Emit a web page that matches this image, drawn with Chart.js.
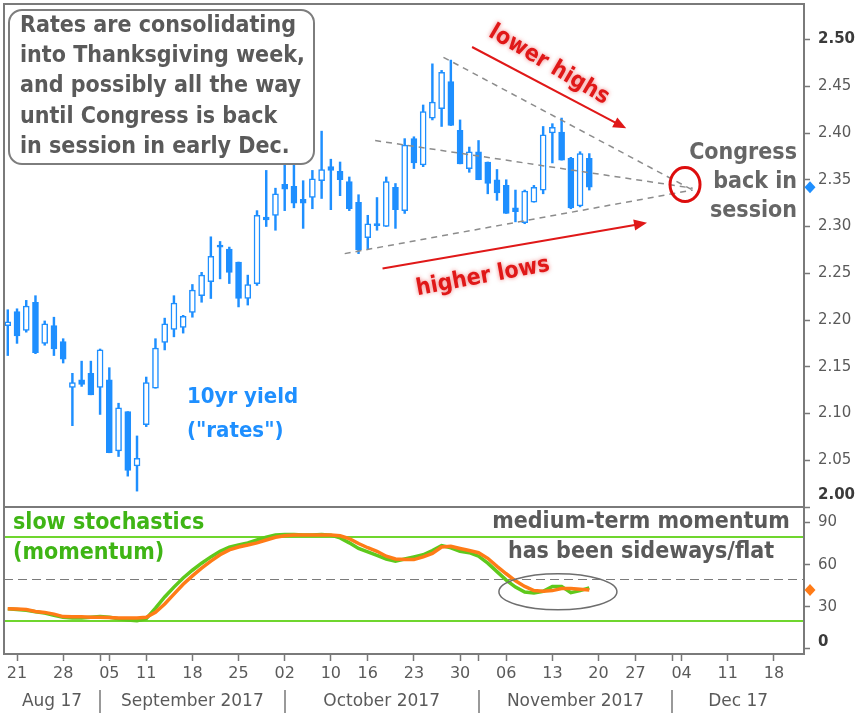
<!DOCTYPE html>
<html>
<head>
<meta charset="utf-8">
<script src="https://cdn.jsdelivr.net/npm/chart.js@4.4.1/dist/chart.umd.min.js"></script>
<style>
  html, body { margin: 0; padding: 0; background: #fff; }
</style>
</head>
<body>
<canvas id="chart" width="865" height="714"></canvas>
<script>
// ========= data =========
// x = trading day index, 0 = Fri 18 Aug 2017 (holidays skipped)
const openP = [
  2.194, 2.209, 2.189, 2.219, 2.175, 2.194, 2.177, 2.128,
  2.136, 2.143, 2.128, 2.136, 2.060, 2.102, 2.044, 2.088,
  2.127, 2.176, 2.190, 2.192, 2.208, 2.226, 2.241, 2.280,
  2.276, 2.262, 2.223, 2.239, 2.310, 2.312, 2.345, 2.343,
  2.329, 2.331, 2.349, 2.364, 2.359, 2.348, 2.326, 2.288,
  2.302, 2.300, 2.342, 2.317, 2.394, 2.366, 2.416, 2.426,
  2.455, 2.403, 2.362, 2.380, 2.369, 2.350, 2.344, 2.320,
  2.304, 2.326, 2.339, 2.400, 2.401, 2.373, 2.322, 2.373
];
const highP = [
  2.211, 2.212, 2.221, 2.226, 2.199, 2.203, 2.180, 2.143,
  2.156, 2.156, 2.169, 2.149, 2.111, 2.102, 2.076, 2.139,
  2.180, 2.202, 2.226, 2.205, 2.238, 2.251, 2.289, 2.284,
  2.278, 2.262, 2.248, 2.317, 2.360, 2.341, 2.372, 2.366,
  2.349, 2.360, 2.402, 2.372, 2.369, 2.353, 2.334, 2.312,
  2.331, 2.353, 2.346, 2.394, 2.396, 2.430, 2.474, 2.467,
  2.478, 2.414, 2.385, 2.392, 2.369, 2.361, 2.350, 2.339,
  2.339, 2.344, 2.407, 2.410, 2.416, 2.374, 2.380, 2.378
];
const lowP = [
  2.162, 2.175, 2.187, 2.164, 2.173, 2.162, 2.154, 2.087,
  2.129, 2.120, 2.099, 2.058, 2.054, 2.033, 2.017, 2.086,
  2.127, 2.168, 2.182, 2.186, 2.203, 2.219, 2.223, 2.244,
  2.239, 2.214, 2.216, 2.237, 2.300, 2.296, 2.317, 2.320,
  2.298, 2.319, 2.330, 2.318, 2.333, 2.317, 2.271, 2.276,
  2.296, 2.300, 2.298, 2.314, 2.362, 2.364, 2.414, 2.407,
  2.408, 2.367, 2.358, 2.350, 2.335, 2.328, 2.314, 2.305,
  2.303, 2.326, 2.335, 2.368, 2.371, 2.319, 2.321, 2.339
];
const closeP = [
  2.198, 2.183, 2.215, 2.165, 2.196, 2.169, 2.158, 2.133,
  2.131, 2.120, 2.168, 2.058, 2.106, 2.039, 2.052, 2.133,
  2.170, 2.196, 2.218, 2.204, 2.232, 2.248, 2.268, 2.278,
  2.251, 2.223, 2.238, 2.312, 2.307, 2.335, 2.340, 2.325,
  2.325, 2.351, 2.361, 2.360, 2.350, 2.319, 2.275, 2.303,
  2.301, 2.348, 2.318, 2.387, 2.368, 2.423, 2.433, 2.465,
  2.408, 2.367, 2.380, 2.350, 2.346, 2.336, 2.314, 2.316,
  2.338, 2.342, 2.398, 2.406, 2.371, 2.320, 2.378, 2.342
];
// slow stochastics: %K green, %D orange
const stochK = [
  28.6, 28, 27.5, 26.5, 25.5, 24, 22.5, 22,
  22, 22.5, 23, 22.5, 21.5, 20.5, 20, 21.5,
  29, 37, 44, 50.5, 56, 61, 65.5, 69.5,
  72.5, 74, 75.5, 77.5, 79.5, 81, 81.5, 81.5,
  81, 81, 81.5, 81, 79, 75.5, 71.5, 69,
  66.5, 64, 62.5, 64, 65.5, 67, 70, 73.5,
  72, 69.5, 68.5, 66, 61, 55, 49, 44,
  40.5, 39.8, 41, 44.5, 44.5, 40, 41.5, 43.5
];
const stochD = [
  28.6, 28.5, 28, 26.7, 26, 24.8, 23, 22.9,
  22.9, 22.5, 22.5, 22.3, 22, 22, 22, 22.5,
  26, 32, 39, 46, 52, 57.5, 62.5, 67,
  70.5, 72.5, 74, 75.5, 77.5, 79.5, 80.5, 81,
  81, 81, 81, 81, 80.5, 78.5, 75, 72,
  69.5, 66, 64, 63.6, 63.6, 65.5, 68, 72.5,
  73, 71.5, 70, 68.5, 64.5, 58.8, 53.5, 48.5,
  44.5, 41.5, 41, 41.5, 43, 43, 42.5, 42
];

const dayTickIdx  = [1, 6, 10, 11, 15, 20, 25, 30, 35, 39, 44, 49, 51, 54, 59, 64, 68, 72, 73, 78, 83];
const dayTickText = ['21', '28', '', '05', '11', '18', '25', '02', '10', '16', '23', '30', '', '06', '13', '20', '27', '', '04', '11', '18'];
const monthStartIdx = [10, 30, 51, 72];
const monthNames = ['Aug 17', 'September 2017', 'October 2017', 'November 2017', 'Dec 17'];
const priceTicks = [2.00, 2.05, 2.10, 2.15, 2.20, 2.25, 2.30, 2.35, 2.40, 2.45, 2.50];
const stochTicks = [0, 30, 60, 90];
const stochLevels = [20, 80];
const stochMid = 50;

// annotations in (day index, yield) units
const trendLines = [
  [47.2, 2.481, 74.2, 2.339],
  [39.8, 2.392, 74.2, 2.341],
  [36.5, 2.271, 74.2, 2.339]
];
const lowerHighsArrow = [50.3, 2.492, 67.0, 2.405];
const higherLowsArrow = [40.6, 2.255, 69.25, 2.304];
const congressMark = [73.37, 2.345];
const flatMark = [59.6, 40.7]; // (day index, stochastic)

const noteLines = ['Rates are consolidating', 'into Thanksgiving week,', 'and possibly all the way', 'until Congress is back', 'in session in early Dec.'];
const congressLines = ['Congress', 'back in', 'session'];
const yieldLines = ['10yr yield', '("rates")'];
const stochLines = ['slow stochastics', '(momentum)'];
const momentumLines = ['medium-term momentum', 'has been sideways/flat'];

// ========= styles =========
const X_MIN = -0.41, X_MAX = 86.26;
const BLUE = '#1e8fff';
const ORANGE = '#ff7b17';
const GREEN = '#5ec91c';
const FRAME = '#7a7a7a';
const BOLD = '"DejaVu Sans Condensed", "DejaVu Sans", sans-serif';
const days = openP.map((_, i) => i);

function arrow(ctx, x1, y1, x2, y2) {
  const ang = Math.atan2(y2 - y1, x2 - x1);
  ctx.beginPath();
  ctx.moveTo(x1, y1);
  ctx.lineTo(x2 - 8 * Math.cos(ang), y2 - 8 * Math.sin(ang));
  ctx.stroke();
  ctx.beginPath();
  ctx.moveTo(x2, y2);
  ctx.lineTo(x2 - 13 * Math.cos(ang) + 5.5 * Math.sin(ang), y2 - 13 * Math.sin(ang) - 5.5 * Math.cos(ang));
  ctx.lineTo(x2 - 13 * Math.cos(ang) - 5.5 * Math.sin(ang), y2 - 13 * Math.sin(ang) + 5.5 * Math.cos(ang));
  ctx.closePath();
  ctx.fill();
}

function roundBox(ctx, x, y, w, h, r) {
  ctx.beginPath();
  ctx.moveTo(x + r, y);
  ctx.arcTo(x + w, y, x + w, y + h, r);
  ctx.arcTo(x + w, y + h, x, y + h, r);
  ctx.arcTo(x, y + h, x, y, r);
  ctx.arcTo(x, y, x + w, y, r);
  ctx.closePath();
}

function diamond(ctx, x, y, color) {
  ctx.fillStyle = color;
  ctx.beginPath();
  ctx.moveTo(x, y - 6);
  ctx.lineTo(x + 5.5, y);
  ctx.lineTo(x, y + 6);
  ctx.lineTo(x - 5.5, y);
  ctx.closePath();
  ctx.fill();
}

// no label overhang padding: the panes fill the canvas edge to edge
function fitAxis(s, size) {
  if (s.isHorizontal()) s.height = size; else s.width = size;
  s.paddingTop = 0; s.paddingBottom = 0; s.paddingLeft = 0; s.paddingRight = 0;
}

// ========= plugin: levels, notes, frame =========
const decorations = {
  id: 'decorations',
  beforeDatasetsDraw(chart) {
    const { ctx, chartArea: a, scales: { y2 } } = chart;
    ctx.save();
    ctx.strokeStyle = '#6fd62e';
    ctx.lineWidth = 2;
    stochLevels.forEach(v => {
      const py = Math.round(y2.getPixelForValue(v));
      ctx.beginPath(); ctx.moveTo(a.left, py); ctx.lineTo(a.right, py); ctx.stroke();
    });
    ctx.strokeStyle = '#7a7a7a';
    ctx.lineWidth = 1.2;
    ctx.setLineDash([9, 5]);
    const pm = Math.round(y2.getPixelForValue(stochMid)) + 0.5;
    ctx.beginPath(); ctx.moveTo(a.left, pm); ctx.lineTo(a.right, pm); ctx.stroke();
    ctx.restore();
  },
  afterDatasetsDraw(chart) {
    const { ctx, scales: { x, y, y2 } } = chart;
    ctx.save();
    ctx.textBaseline = 'middle';

    // note box
    ctx.fillStyle = '#fff';
    ctx.strokeStyle = '#7d7d7d';
    ctx.lineWidth = 2;
    roundBox(ctx, 9, 10, 305, 154, 13);
    ctx.fill(); ctx.stroke();
    ctx.fillStyle = '#5a5a5a';
    ctx.font = 'bold 23px ' + BOLD;
    ctx.textAlign = 'left';
    noteLines.forEach((t, i) => ctx.fillText(t, 20, 26 + i * 30.2));

    // red arrows + labels
    ctx.strokeStyle = '#e01818';
    ctx.fillStyle = '#e01818';
    ctx.lineWidth = 2;
    [lowerHighsArrow, higherLowsArrow].forEach(r => {
      arrow(ctx, x.getPixelForValue(r[0]), y.getPixelForValue(r[1]),
                 x.getPixelForValue(r[2]), y.getPixelForValue(r[3]));
    });
    ctx.shadowColor = 'rgba(225,20,20,0.55)';
    ctx.shadowBlur = 4;
    ctx.textAlign = 'center';
    ctx.font = 'bold 23px ' + BOLD;
    ctx.save();
    ctx.translate(549, 65);
    ctx.rotate(30.5 * Math.PI / 180);
    ctx.fillText('lower highs', 0, 0);
    ctx.restore();
    ctx.save();
    ctx.translate(483, 277);
    ctx.rotate(-10.5 * Math.PI / 180);
    ctx.fillText('higher lows', 0, 0);
    ctx.restore();
    ctx.shadowBlur = 0;
    ctx.shadowColor = 'transparent';

    // convergence circle
    ctx.strokeStyle = '#dd0d0d';
    ctx.lineWidth = 3;
    ctx.beginPath();
    ctx.ellipse(x.getPixelForValue(congressMark[0]), y.getPixelForValue(congressMark[1]), 15, 17, 0, 0, Math.PI * 2);
    ctx.stroke();

    // flat momentum ellipse
    ctx.strokeStyle = '#6e6e6e';
    ctx.lineWidth = 1.5;
    ctx.beginPath();
    ctx.ellipse(x.getPixelForValue(flatMark[0]), y2.getPixelForValue(flatMark[1]), 59, 18, 0, 0, Math.PI * 2);
    ctx.stroke();

    // texts
    ctx.fillStyle = '#666';
    ctx.textAlign = 'right';
    congressLines.forEach((t, i) => ctx.fillText(t, 797, 153 + i * 29));

    ctx.fillStyle = BLUE;
    ctx.textAlign = 'left';
    ctx.font = 'bold 22px ' + BOLD;
    yieldLines.forEach((t, i) => ctx.fillText(t, 187, 397 + i * 34));

    ctx.font = 'bold 23px ' + BOLD;
    ctx.fillStyle = '#3fb515';
    stochLines.forEach((t, i) => ctx.fillText(t, 13, 523 + i * 30));

    ctx.fillStyle = '#5a5a5a';
    ctx.textAlign = 'center';
    momentumLines.forEach((t, i) => ctx.fillText(t, 641, 522 + i * 30));
    ctx.restore();
  },
  afterDraw(chart) {
    const { ctx, chartArea: a, scales: { x, y, y2 } } = chart;
    ctx.save();
    // frame + pane separator
    ctx.strokeStyle = FRAME;
    ctx.lineWidth = 2;
    ctx.strokeRect(a.left, a.top, a.right - a.left, a.bottom - a.top);
    ctx.beginPath();
    ctx.moveTo(a.left, y.bottom); ctx.lineTo(a.right, y.bottom);
    ctx.stroke();

    // last value markers
    diamond(ctx, a.right + 6, y.getPixelForValue(closeP[closeP.length - 1]), BLUE);
    diamond(ctx, a.right + 6, y2.getPixelForValue(stochD[stochD.length - 1]), ORANGE);

    // bold bound labels
    ctx.fillStyle = '#3a3a3a';
    ctx.font = 'bold 15px "DejaVu Sans"';
    ctx.textAlign = 'left';
    ctx.textBaseline = 'middle';
    ctx.fillText('2.00', a.right + 14, y.getPixelForValue(2.0) - 12);
    ctx.fillText('0', a.right + 14, y2.getPixelForValue(0) - 7);

    // month row
    ctx.fillStyle = '#5a5a5a';
    ctx.font = '17px "DejaVu Sans"';
    ctx.textAlign = 'center';
    const bounds = [X_MIN, ...monthStartIdx, X_MAX];
    monthNames.forEach((m, i) => {
      const cx = x.getPixelForValue((bounds[i] + bounds[i + 1]) / 2);
      ctx.fillText(m, cx, 702);
    });
    ctx.strokeStyle = '#777';
    ctx.lineWidth = 1.5;
    monthStartIdx.forEach(v => {
      const px = Math.round(x.getPixelForValue(v));
      ctx.beginPath(); ctx.moveTo(px, 690); ctx.lineTo(px, 713); ctx.stroke();
    });
    ctx.restore();
  }
};

// ========= chart =========
const ctx = document.getElementById('chart').getContext('2d');
new Chart(ctx, {
  type: 'bar',
  data: {
    datasets: [
      {
        type: 'bar',
        label: 'body',
        data: days.map(i => ({ x: i, y: [Math.min(openP[i], closeP[i]), Math.max(openP[i], closeP[i])] })),
        yAxisID: 'y',
        grouped: false,
        barThickness: 6,
        minBarLength: 2,
        borderWidth: 1.5,
        borderColor: BLUE,
        borderSkipped: false,
        backgroundColor: c => closeP[c.dataIndex] >= openP[c.dataIndex] ? '#ffffff' : BLUE,
        order: 1
      },
      {
        type: 'bar',
        label: 'wick',
        data: days.map(i => ({ x: i, y: [lowP[i], highP[i]] })),
        yAxisID: 'y',
        grouped: false,
        barThickness: 1.8,
        borderWidth: 0,
        backgroundColor: BLUE,
        order: 2
      },
      ...trendLines.map((t, k) => ({
        type: 'line',
        label: 'trend' + k,
        data: [{ x: t[0], y: t[1] }, { x: t[2], y: t[3] }],
        yAxisID: 'y',
        borderColor: '#8c8c8c',
        borderWidth: 1.5,
        borderDash: [6, 5],
        pointRadius: 0,
        order: 0
      })),
      {
        type: 'line',
        label: '%D',
        data: days.map(i => ({ x: i, y: stochD[i] })),
        yAxisID: 'y2',
        borderColor: ORANGE,
        borderWidth: 3.5,
        pointRadius: 0,
        tension: 0,
        order: 3
      },
      {
        type: 'line',
        label: '%K',
        data: days.map(i => ({ x: i, y: stochK[i] })),
        yAxisID: 'y2',
        borderColor: GREEN,
        borderWidth: 3.5,
        pointRadius: 0,
        tension: 0,
        order: 4
      }
    ]
  },
  options: {
    responsive: false,
    animation: false,
    events: [],
    layout: { padding: { left: 4, top: 4, right: 0, bottom: 0 } },
    plugins: { legend: { display: false }, tooltip: { enabled: false } },
    scales: {
      x: {
        type: 'linear',
        min: X_MIN,
        max: X_MAX,
        offset: false,
        afterBuildTicks: s => { s.ticks = dayTickIdx.map(v => ({ value: v })); },
        afterFit: s => fitAxis(s, 60),
        grid: { drawOnChartArea: false, offset: false, tickLength: 7, tickColor: '#777', tickWidth: 1.5 },
        border: { display: false },
        ticks: {
          autoSkip: false, maxRotation: 0, padding: 3, color: '#5a5a5a',
          font: { family: 'DejaVu Sans', size: 16 },
          callback: (v, i) => dayTickText[i]
        }
      },
      y: {
        type: 'linear',
        position: 'right',
        stack: 'panes',
        stackWeight: 503,
        min: 2.0,
        max: 2.538,
        afterBuildTicks: s => { s.ticks = priceTicks.map(v => ({ value: v })); },
        afterFit: s => fitAxis(s, 61),
        grid: { drawOnChartArea: false, tickLength: 6, tickColor: '#777', tickWidth: 1.5 },
        border: { display: false },
        ticks: {
          padding: 8,
          color: c => (c.tick && Math.abs(c.tick.value - 2.5) < 1e-9) ? '#3a3a3a' : '#5a5a5a',
          font: c => ({ family: 'DejaVu Sans', size: 15, weight: (c.tick && Math.abs(c.tick.value - 2.5) < 1e-9) ? 'bold' : 'normal' }),
          callback: v => Math.abs(v - 2) < 1e-9 ? '' : v.toFixed(2)
        }
      },
      y2: {
        type: 'linear',
        position: 'right',
        stack: 'panes',
        stackWeight: 147,
        min: -3.6,
        max: 101,
        afterBuildTicks: s => { s.ticks = stochTicks.map(v => ({ value: v })); },
        afterFit: s => fitAxis(s, 61),
        grid: { drawOnChartArea: false, tickLength: 6, tickColor: '#777', tickWidth: 1.5 },
        border: { display: false },
        ticks: {
          padding: 8, color: '#5a5a5a',
          font: { family: 'DejaVu Sans', size: 15 },
          callback: v => v === 0 ? '' : String(v)
        }
      }
    }
  },
  plugins: [decorations]
});
</script>
</body>
</html>
